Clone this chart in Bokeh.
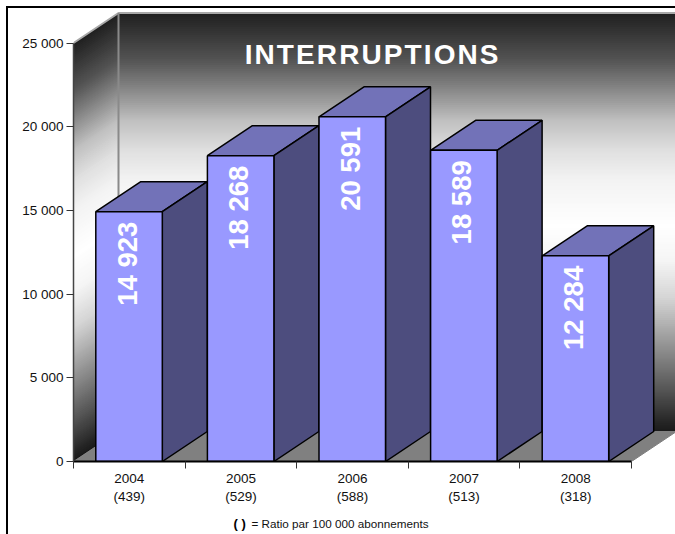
import numpy as np
from bokeh.plotting import figure
from bokeh.models import FixedTicker, Label, ColumnDataSource
from bokeh.core.properties import value
from bokeh.embed import file_html
from bokeh.resources import INLINE

years = ["2004", "2005", "2006", "2007", "2008"]
ratios = ["(439)", "(529)", "(588)", "(513)", "(318)"]
interruptions = [14923, 18268, 20591, 18589, 12284]
bar_labels = ["14 923", "18 268", "20 591", "18 589", "12 284"]
y_ticks = [0, 5000, 10000, 15000, 20000, 25000]
y_tick_labels = ["0", "5 000", "10 000", "15 000", "20 000", "25 000"]
title_text = "INTERRUPTIONS"
note_text = "= Ratio par 100 000 abonnements"

FONT = "Liberation Sans"
PX_X = 111.6
PX_Y = 418.5 / 25000
dx = 45 / PX_X
dy = 30 / PX_Y
n = len(years)
bar_left = 22.3 / PX_X
bar_w = 66.5 / PX_X

p = figure(width=675, height=534, output_backend="svg", toolbar_location=None,
           x_range=(0, 602 / PX_X), y_range=(0, 461 / PX_Y),
           min_border_left=73, min_border_right=0, min_border_top=0, min_border_bottom=73,
           outline_line_color=None, background_fill_color="white", border_fill_color="white")
p.stylesheets = [":host::after { content: ''; position: absolute; left: 6px; top: 6px; right: 0; bottom: 0; "
                 "border-left: 2px solid #000; border-top: 2px solid #000; pointer-events: none; }"]
p.xgrid.visible = False
p.ygrid.visible = False

# wall gradient stops: fraction of the wall height from the top, grey level
grad_pos = (np.array([12, 30, 60, 90, 120, 150, 180, 225, 260, 297, 330, 363, 397, 420, 431]) - 12) / 419
grad_val = [31, 51, 85, 138, 192, 224, 243, 255, 245, 213, 168, 122, 74, 40, 26]

edges = np.linspace(25000, 0, 211)
step = edges[0] - edges[1]
back_xs, back_ys, left_xs, left_ys, cols = [], [], [], [], []
for i in range(210):
    v0, v1 = edges[i], max(edges[i + 1] - step, 0)
    g = int(round(np.interp((i + 0.5) / 210, grad_pos, grad_val)))
    cols.append("#%02x%02x%02x" % (g, g, g))
    back_xs.append([dx, n + dx + 0.1, n + dx + 0.1, dx])
    back_ys.append([v0 + dy, v0 + dy, v1 + dy, v1 + dy])
    left_xs.append([0, dx, dx, 0])
    left_ys.append([v0, v0 + dy, v1 + dy, v1])
p.patches(back_xs, back_ys, fill_color=cols, line_color=None)
p.patches(left_xs, left_ys, fill_color=cols, line_color=None)

# floor
p.patch([0, n, n + dx, dx], [0, 0, dy, dy], fill_color="#808080", line_color="#808080")
# wall edges
p.line([0, dx, n + dx + 0.1], [25000, 25000 + dy, 25000 + dy], line_color="#a8a8a8", line_width=2)
p.line([dx, dx], [dy, 25000 + dy], line_color="#8a8a8a", line_width=2)

# bars
for i, v in enumerate(interruptions):
    l = i + bar_left
    r = l + bar_w
    p.patch([l, r, r + dx, l + dx], [v, v, v + dy, v + dy], fill_color="#7272b8", line_color="#000000", line_width=1.5)
    p.patch([r, r + dx, r + dx, r], [0, dy, v + dy, v], fill_color="#4d4d7e", line_color="#000000", line_width=1.5)
    p.quad(left=l, right=r, bottom=0, top=v, fill_color="#9999ff", line_color="#000000", line_width=1.5)

src = ColumnDataSource(dict(x=[i + bar_left + bar_w / 2 for i in range(n)], y=interruptions, t=bar_labels))
p.text("x", "y", text="t", source=src, angle=np.pi / 2, text_align="center", text_baseline="middle",
       x_offset=-2, y_offset=52, text_color="white", text_font=value(FONT), text_font_style="bold",
       text_font_size="27.5px")

# x axis
ax = p.xaxis[0]
ax.bounds = (0, n)
ax.ticker = FixedTicker(ticks=[i + 0.5 for i in range(n)], minor_ticks=list(range(n + 1)))
ax.major_label_overrides = {i + 0.5: years[i] + "\n" + ratios[i] for i in range(n)}
ax.major_tick_out = 0
ax.major_tick_in = 0
ax.minor_tick_out = 7
ax.minor_tick_in = 0
ax.minor_tick_line_color = "#333333"
ax.axis_line_color = "#000000"
ax.axis_line_width = 2
ax.major_label_standoff = 2
ax.major_label_text_font = FONT
ax.major_label_text_font_size = "13.5px"
ax.major_label_text_color = "#111111"

# y axis
ay = p.yaxis[0]
ay.bounds = (0, 25000)
ay.ticker = FixedTicker(ticks=y_ticks, minor_ticks=[])
ay.major_label_overrides = dict(zip(y_ticks, y_tick_labels))
ay.major_tick_out = 7
ay.major_tick_in = 0
ay.major_tick_line_color = "#333333"
ay.axis_line_color = "#444444"
ay.axis_line_width = 1.5
ay.major_label_standoff = 3
ay.major_label_text_font = FONT
ay.major_label_text_font_size = "13.5px"
ay.major_label_text_color = "#111111"

# title and note
p.add_layout(Label(x=358.5, y=54, x_units="canvas", y_units="canvas", text=title_text,
                   text_align="center", text_baseline="middle", text_color="white",
                   text_font=FONT, text_font_style="bold", text_font_size="28px"))
p.add_layout(Label(x=233, y=523, x_units="canvas", y_units="canvas", text="( )",
                   text_align="left", text_baseline="middle", text_color="#000000",
                   text_font=FONT, text_font_style="bold", text_font_size="13px"), "below")
p.add_layout(Label(x=251, y=523, x_units="canvas", y_units="canvas", text=note_text,
                   text_align="left", text_baseline="middle", text_color="#111111",
                   text_font=FONT, text_font_size="11.7px"), "below")

# letter spacing of the title, which the canvas API has no option for
spacing_js = """<script>
function walk(root) {
  root.querySelectorAll('*').forEach(function (e) {
    if (e.shadowRoot) walk(e.shadowRoot);
    if (e.tagName.toLowerCase() === 'text' && e.textContent === '%s') e.setAttribute('letter-spacing', '2.1');
  });
}
setInterval(function () { walk(document); }, 30);
</script></body>""" % title_text

html = file_html(p, INLINE)
open("out.html", "w").write(html.replace("</body>", spacing_js))
